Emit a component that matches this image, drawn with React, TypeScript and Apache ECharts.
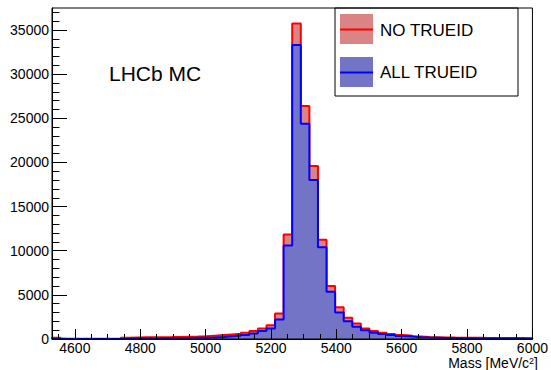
import React, { useEffect, useRef } from "react";
import * as echarts from "echarts";

// Histogram binning (mass axis, MeV/c^2)
const X_MIN = 4530;
const X_MAX = 6000;
const BIN_WIDTH = 26.25;

// Bin contents (56 bins from X_MIN to X_MAX)
const noTrueId = [
  150, 30, 20, 20, 20, 20, 30, 40, 150, 170,
  190, 200, 210, 220, 240, 260, 280, 320, 380, 440,
  520, 600, 720, 900, 1200, 1550, 2900, 11850, 35750, 26400,
  19600, 11250, 6000, 3600, 2400, 1750, 1200, 900, 720, 570,
  450, 380, 290, 240, 210, 180, 160, 150, 140, 130,
  120, 115, 110, 105, 100, 95,
];
const allTrueId = [
  20, 10, 10, 10, 10, 10, 10, 10, 40, 50,
  60, 70, 80, 90, 100, 110, 130, 150, 180, 230,
  300, 360, 450, 620, 900, 1200, 2200, 10600, 33300, 24400,
  18000, 10400, 5350, 3000, 2000, 1400, 1000, 720, 570, 450,
  340, 270, 200, 160, 140, 110, 100, 90, 80, 70,
  60, 55, 50, 45, 40, 40,
];

const xMajorTicks = [4600, 4800, 5000, 5200, 5400, 5600, 5800, 6000];
const xMinorTicks = [4550, 4650, 4700, 4750, 4850, 4900, 4950, 5050, 5100, 5150, 5250, 5300, 5350, 5450, 5500, 5550, 5650, 5700, 5750, 5850, 5900, 5950];
const yMajorTicks = [0, 5000, 10000, 15000, 20000, 25000, 30000, 35000];
const yMinorTicks = [1000, 2000, 3000, 4000, 6000, 7000, 8000, 9000, 11000, 12000, 13000, 14000, 16000, 17000, 18000, 19000, 21000, 22000, 23000, 24000, 26000, 27000, 28000, 29000, 31000, 32000, 33000, 34000, 36000, 37000];
const Y_MAX = 37500;

const seriesNames = ["NO TRUEID", "ALL TRUEID"];
const FONT = "'Liberation Sans', Arial, Helvetica, sans-serif";

function stepData(values: number[]) {
  const pts: number[][] = [[X_MIN, 0]];
  values.forEach((v, i) => pts.push([X_MIN + i * BIN_WIDTH, v]));
  pts.push([X_MAX, values[values.length - 1]]);
  pts.push([X_MAX, 0]);
  return pts;
}

export default function App() {
  const ref = useRef<HTMLDivElement>(null);
  useEffect(() => {
    if (!ref.current) return;
    const chart = echarts.init(ref.current, null, { renderer: "svg" });
    const RED_LINE = "#ff0000";
    const RED_FILL = "#d98585";
    const BLUE_LINE = "#0000ff";
    const BLUE_FILL = "#7474c6";
    chart.setOption({
      animation: false,
      backgroundColor: "#ffffff",
      grid: {
        left: 52,
        top: 8,
        width: 486,
        height: 331,
        show: true,
        borderColor: "#000",
        borderWidth: 1,
        backgroundColor: "transparent",
        z: 10,
      },
      xAxis: [
        {
          type: "value",
          min: X_MIN,
          max: X_MAX,
          axisLine: { show: true, lineStyle: { color: "#000", width: 1 } },
          axisTick: { show: true, inside: true, length: 10, customValues: xMajorTicks, lineStyle: { color: "#000" } },
          axisLabel: {
            customValues: xMajorTicks,
            formatter: (v: number) => String(v),
            color: "#000",
            fontFamily: FONT,
            fontSize: 14,
            lineHeight: 14,
            margin: 2,
          },
          splitLine: { show: false },
          z: 10,
        },
        {
          type: "value",
          min: X_MIN,
          max: X_MAX,
          position: "bottom",
          axisLine: { show: false },
          axisTick: { show: true, inside: true, length: 5, customValues: xMinorTicks, lineStyle: { color: "#000" } },
          axisLabel: { show: false },
          splitLine: { show: false },
          z: 10,
        },
      ],
      yAxis: [
        {
          type: "value",
          min: 0,
          max: Y_MAX,
          axisLine: { show: true, lineStyle: { color: "#000", width: 1 } },
          axisTick: { show: true, inside: true, length: 15, customValues: yMajorTicks, lineStyle: { color: "#000" } },
          axisLabel: {
            customValues: yMajorTicks,
            formatter: (v: number) => String(v),
            color: "#000",
            fontFamily: FONT,
            fontSize: 14,
            margin: 3,
          },
          splitLine: { show: false },
          z: 10,
        },
        {
          type: "value",
          min: 0,
          max: Y_MAX,
          position: "left",
          axisLine: { show: false },
          axisTick: { show: true, inside: true, length: 7.5, customValues: yMinorTicks, lineStyle: { color: "#000" } },
          axisLabel: { show: false },
          splitLine: { show: false },
          z: 10,
        },
      ],
      series: [
        {
          name: seriesNames[0],
          type: "line",
          step: "end",
          data: stepData(noTrueId),
          showSymbol: false,
          symbol: "none",
          lineStyle: { color: RED_LINE, width: 2 },
          areaStyle: { color: RED_FILL, opacity: 1 },
          z: 2,
        },
        {
          name: seriesNames[1],
          type: "line",
          step: "end",
          data: stepData(allTrueId),
          showSymbol: false,
          symbol: "none",
          lineStyle: { color: BLUE_LINE, width: 2 },
          areaStyle: { color: BLUE_FILL, opacity: 1 },
          z: 3,
        },
      ],
      graphic: [
        {
          type: "text",
          x: 109,
          y: 73,
          z: 20,
          style: { text: "LHCb MC", fontFamily: FONT, fontSize: 21, fill: "#000", verticalAlign: "middle" },
        },
        {
          type: "group",
          z: 20,
          children: [
            { type: "rect", shape: { x: 335, y: 8, width: 183, height: 88 }, style: { fill: "#fff", stroke: "#000", lineWidth: 1 } },
            { type: "rect", shape: { x: 340, y: 14, width: 33, height: 30 }, style: { fill: RED_FILL } },
            { type: "line", shape: { x1: 340, y1: 29.5, x2: 373, y2: 29.5 }, style: { stroke: RED_LINE, lineWidth: 2 } },
            { type: "text", x: 380, y: 30.5, style: { text: seriesNames[0], fontFamily: FONT, fontSize: 17, fill: "#000", verticalAlign: "middle" } },
            { type: "rect", shape: { x: 340, y: 57, width: 33, height: 30 }, style: { fill: BLUE_FILL } },
            { type: "line", shape: { x1: 340, y1: 72.5, x2: 373, y2: 72.5 }, style: { stroke: BLUE_LINE, lineWidth: 2 } },
            { type: "text", x: 380, y: 72.5, style: { text: seriesNames[1], fontFamily: FONT, fontSize: 17, fill: "#000", verticalAlign: "middle" } },
          ],
        },
        {
          type: "text",
          x: 538,
          y: 363,
          z: 20,
          style: {
            text: "Mass [MeV/c{sup|2}]",
            fontFamily: FONT,
            fontSize: 14,
            lineHeight: 14,
            fill: "#000",
            align: "right",
            verticalAlign: "middle",
            rich: { sup: { fontSize: 9, lineHeight: 14, fontFamily: FONT, verticalAlign: "top" } },
          },
        },
      ],
    });
    return () => chart.dispose();
  }, []);
  return (
    <div
      ref={ref}
      style={{ position: "fixed", left: 0, top: 0, width: 551, height: 370, background: "#fff" }}
    />
  );
}
